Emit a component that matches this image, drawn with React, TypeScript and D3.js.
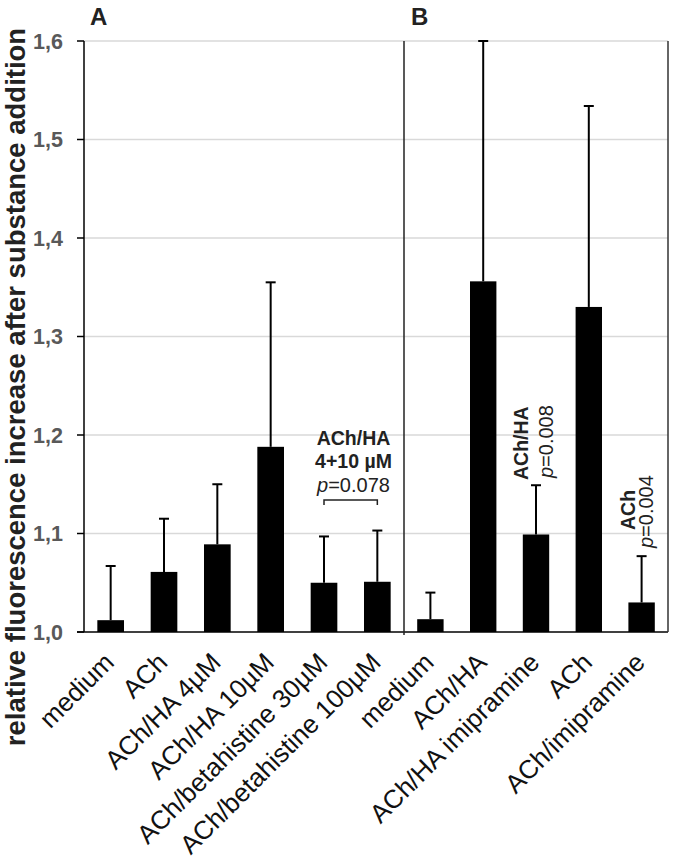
import React from "react";
import * as d3 from "d3";

const categoriesA = ["medium", "ACh", "ACh/HA 4µM", "ACh/HA 10µM", "ACh/betahistine 30µM", "ACh/betahistine 100µM"];
const valuesA = [1.012, 1.061, 1.089, 1.188, 1.050, 1.051];
const upperA = [1.067, 1.115, 1.150, 1.355, 1.097, 1.103];

const categoriesB = ["medium", "ACh/HA", "ACh/HA imipramine", "ACh", "ACh/imipramine"];
const valuesB = [1.013, 1.356, 1.099, 1.330, 1.030];
const upperB = [1.040, 1.600, 1.149, 1.534, 1.077];

const yTicks = [1.0, 1.1, 1.2, 1.3, 1.4, 1.5, 1.6];
const yTitle = "relative fluorescence increase after substance addition";

const FONT = "'Liberation Sans', Arial, Helvetica, sans-serif";

export default function App() {
  const W = 675, H = 862;
  const left = 84, mid = 404, right = 668, top = 41, bottom = 632;
  const y = d3.scaleLinear().domain([1.0, 1.6]).range([bottom, top]);
  const xA = d3.scaleBand<string>().domain(categoriesA).range([left, mid]).paddingInner(0.5).paddingOuter(0.25);
  const xB = d3.scaleBand<string>().domain(categoriesB).range([mid, right]).paddingInner(0.5).paddingOuter(0.25);
  const fmt = (v: number) => v.toFixed(1).replace(".", ",");

  const bars = (cats: string[], vals: number[], ups: number[], x: d3.ScaleBand<string>, key: string) =>
    cats.map((c, i) => {
      const x0 = x(c)!;
      const bw = x.bandwidth();
      const cx = x0 + bw / 2;
      return (
        <g key={key + i}>
          <line x1={cx} x2={cx} y1={y(vals[i])} y2={y(ups[i])} stroke="#000" strokeWidth={2} />
          <line x1={cx - 5} x2={cx + 5} y1={y(ups[i])} y2={y(ups[i])} stroke="#000" strokeWidth={2} />
          <rect x={x0} y={y(vals[i])} width={bw} height={y(1.0) - y(vals[i])} fill="#000" />
        </g>
      );
    });

  const xLabels = (cats: string[], x: d3.ScaleBand<string>, key: string) =>
    cats.map((c, i) => {
      const cx = x(c)! + x.bandwidth() / 2 + 5;
      const ly = 664;
      return (
        <text key={key + i} x={cx} y={ly} transform={`rotate(-45 ${cx} ${ly})`} textAnchor="end"
          fontSize={26} fill="#111" fontFamily={FONT}>{c}</text>
      );
    });

  return (
    <svg width={W} height={H} style={{ position: "absolute", left: 0, top: 0, background: "#fff" }}>
      <rect x={0} y={0} width={W} height={H} fill="#fff" />
      {yTicks.filter(t => t > 1.0).map(t => (
        <line key={"g" + t} x1={left} x2={right} y1={y(t)} y2={y(t)} stroke="#d9d9d9" strokeWidth={1.5} />
      ))}
      {yTicks.map(t => (
        <g key={"t" + t}>
          <line x1={left - 7} x2={left} y1={y(t)} y2={y(t)} stroke="#000" strokeWidth={1.5} />
          <text x={63} y={y(t) + 7.5} textAnchor="end" fontSize={21.5} fontWeight="bold" fill="#595959" fontFamily={FONT}>{fmt(t)}</text>
        </g>
      ))}
      {bars(categoriesA, valuesA, upperA, xA, "a")}
      {bars(categoriesB, valuesB, upperB, xB, "b")}
      <line x1={left} x2={left} y1={top} y2={bottom} stroke="#000" strokeWidth={1.5} />
      <line x1={left - 7} x2={right} y1={bottom} y2={bottom} stroke="#000" strokeWidth={1.5} />
      <line x1={mid} x2={mid} y1={top} y2={bottom + 3} stroke="#222" strokeWidth={1.5} />
      <line x1={right} x2={right} y1={top} y2={bottom} stroke="#333" strokeWidth={1.5} />
      <text x={90} y={25} fontSize={24} fontWeight="bold" fill="#222" fontFamily={FONT}>A</text>
      <text x={411} y={25} fontSize={24} fontWeight="bold" fill="#222" fontFamily={FONT}>B</text>
      <text x={0} y={0} transform={`translate(25 ${(28 + 746) / 2}) rotate(-90)`} textAnchor="middle"
        fontSize={27.5} fontWeight="bold" fill="#222" fontFamily={FONT}>{yTitle}</text>
      <g fontFamily={FONT} fill="#222" textAnchor="middle">
        <text x={353.5} y={445} fontSize={19.5} fontWeight="bold">ACh/HA</text>
        <text x={353.5} y={467.5} fontSize={19.5} fontWeight="bold">4+10 µM</text>
        <text x={353.5} y={491.5} fontSize={20}><tspan fontStyle="italic">p</tspan>=0.078</text>
      </g>
      <path d={`M${xA(categoriesA[4])! + xA.bandwidth() / 2},505 V500 H${xA(categoriesA[5])! + xA.bandwidth() / 2} V505`}
        fill="none" stroke="#222" strokeWidth={1.5} />
      <g fontFamily={FONT} fill="#222">
        <text transform={`translate(528 480) rotate(-90)`} fontSize={19.5} fontWeight="bold">ACh/HA</text>
        <text transform={`translate(553 478) rotate(-90)`} fontSize={20}><tspan fontStyle="italic">p</tspan>=0.008</text>
        <text transform={`translate(635 530) rotate(-90)`} fontSize={19.5} fontWeight="bold">ACh</text>
        <text transform={`translate(653 548) rotate(-90)`} fontSize={20}><tspan fontStyle="italic">p</tspan>=0.004</text>
      </g>
      {xLabels(categoriesA, xA, "la")}
      {xLabels(categoriesB, xB, "lb")}
    </svg>
  );
}
